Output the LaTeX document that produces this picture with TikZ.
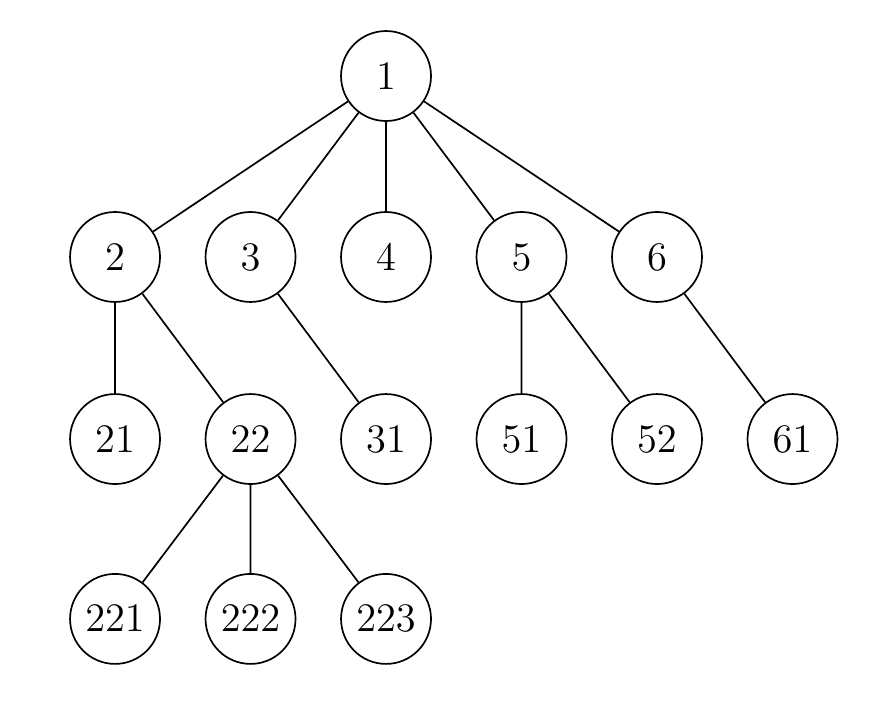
\documentclass[tikz,border=0pt]{standalone}
\usepackage{amsmath,amssymb}
\usepackage{tikz}

\begin{document}
\begin{tikzpicture}[x=1.694cm,y=2.2625cm,
  vtx/.style={draw,circle,line width=0.6pt,minimum size=1.125cm,inner sep=0pt,
    font=\fontsize{15.5}{18}\selectfont}]
 \useasboundingbox (-2.849,0.42) rectangle (3.749,-3.481);
 \node[vtx] (n1) at (0,0) {$1$};
 \node[vtx] (n2) at (-2,-1) {$2$};
 \node[vtx] (n3) at (-1,-1) {$3$};
 \node[vtx] (n4) at (0,-1) {$4$};
 \node[vtx] (n5) at (1,-1) {$5$};
 \node[vtx] (n6) at (2,-1) {$6$};
 \node[vtx] (n21) at (-2,-2.006) {$21$};
 \node[vtx] (n22) at (-1,-2.006) {$22$};
 \node[vtx] (n31) at (0,-2.006) {$31$};
 \node[vtx] (n51) at (1,-2.006) {$51$};
 \node[vtx] (n52) at (2,-2.006) {$52$};
 \node[vtx] (n61) at (3,-2.006) {$61$};
 \node[vtx] (n221) at (-2,-3) {$221$};
 \node[vtx] (n222) at (-1,-3) {$222$};
 \node[vtx] (n223) at (0,-3) {$223$};
 \draw[line width=0.6pt] (n1)--(n2) (n1)--(n3) (n1)--(n4) (n1)--(n5) (n1)--(n6);
 \draw[line width=0.6pt] (n2)--(n21) (n2)--(n22) (n3)--(n31);
 \draw[line width=0.6pt] (n5)--(n51) (n5)--(n52) (n6)--(n61);
 \draw[line width=0.6pt] (n22)--(n221) (n22)--(n222) (n22)--(n223);
\end{tikzpicture}
\end{document}
